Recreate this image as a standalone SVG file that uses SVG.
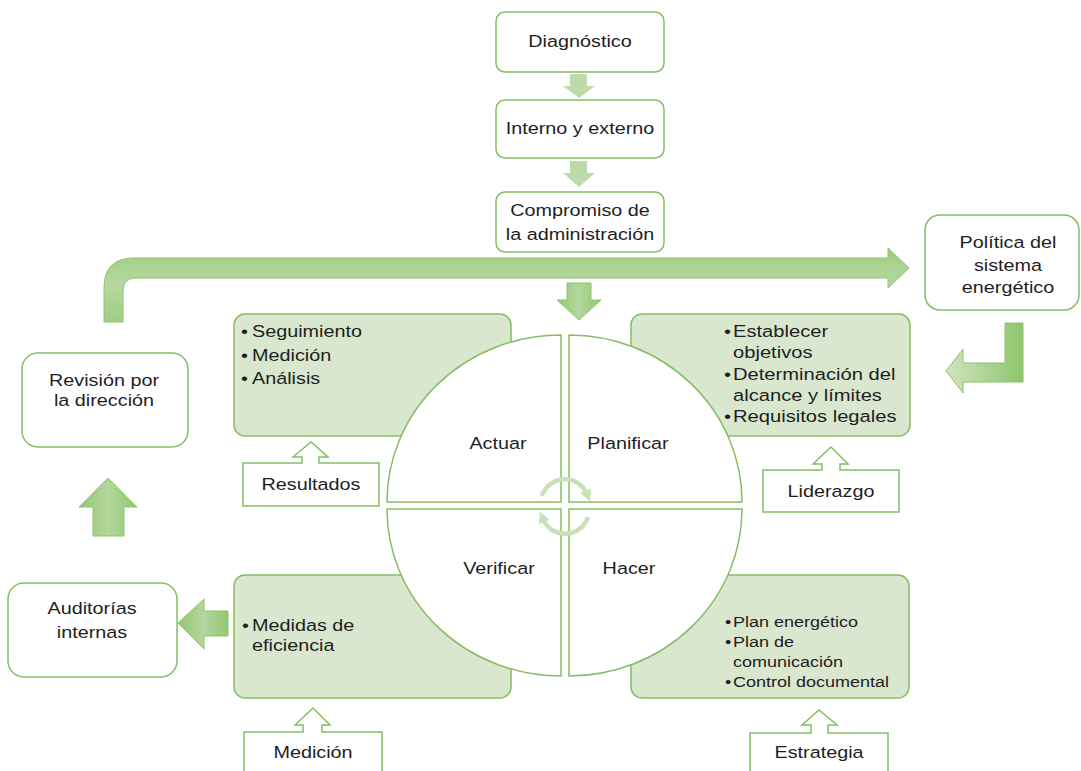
<svg xmlns="http://www.w3.org/2000/svg" width="1081" height="771" viewBox="0 0 1081 771">
<defs>
<style>
.box{fill:#fff;stroke:#86bd64;stroke-width:1.5}
.gbox{fill:#d9e7cf;stroke:#86bd64;stroke-width:1.5}
.quad{fill:#fff;stroke:#86bd64;stroke-width:1.5}
.call{fill:#fff;stroke:#86bd64;stroke-width:1.5}
.t{font-family:"Liberation Sans",Arial,sans-serif;font-size:16.5px;fill:#1e1e1e}
.ts{font-family:"Liberation Sans",Arial,sans-serif;font-size:15px;fill:#1e1e1e}
.tb{font-family:"Liberation Sans",Arial,sans-serif;font-size:16.8px;fill:#1e1e1e}
.m{text-anchor:middle}
.solid{fill:url(#gv);stroke:#8cc46b;stroke-width:1}
.light{fill:#bddaa9}
.cyc{fill:none;stroke:#c8e1b8;stroke-width:4.5}
</style>
<linearGradient id="gv" x1="0" y1="0" x2="1" y2="0">
<stop offset="0" stop-color="#93c873"/>
<stop offset="0.5" stop-color="#b3d69c"/>
<stop offset="1" stop-color="#93c873"/>
</linearGradient>
<linearGradient id="gh" x1="0" y1="0" x2="0" y2="1">
<stop offset="0" stop-color="#9fcd83"/>
<stop offset="0.5" stop-color="#b6d8a0"/>
<stop offset="1" stop-color="#9fcd83"/>
</linearGradient>
<linearGradient id="gp" x1="0" y1="0" x2="1" y2="0">
<stop offset="0" stop-color="#cfe5c0"/>
<stop offset="1" stop-color="#8fc46c"/>
</linearGradient>
<marker id="ah" viewBox="0 0 10 10" refX="3" refY="5" markerWidth="2.6" markerHeight="2.6" orient="auto" markerUnits="strokeWidth">
<path d="M0,0 L10,5 L0,10 Z" fill="#c8e1b8"/>
</marker>
</defs>
<rect width="1081" height="771" fill="#fff"/>

<g id="n-diagnostico">
<rect class="box" x="496" y="12" width="168" height="60" rx="9"/>
<text class="t m" transform="translate(580,47) scale(1.2,1)">Diagnóstico</text>
</g>
<g id="n-interno">
<rect class="box" x="496" y="100" width="168" height="58" rx="9"/>
<text class="t m" transform="translate(580,134) scale(1.2,1)">Interno y externo</text>
</g>
<g id="n-compromiso">
<rect class="box" x="496" y="192" width="168" height="60" rx="9"/>
<text class="t m" transform="translate(580,216) scale(1.2,1)">Compromiso de</text>
<text class="t m" transform="translate(580,240) scale(1.2,1)">la administración</text>
</g>
<g id="n-politica">
<rect class="box" x="925" y="215" width="154" height="95" rx="15"/>
<text class="t m" transform="translate(1008,248) scale(1.2,1)">Política del</text>
<text class="t m" transform="translate(1008,271) scale(1.2,1)">sistema</text>
<text class="t m" transform="translate(1008,293) scale(1.2,1)">energético</text>
</g>
<g id="n-revision">
<rect class="box" x="22" y="353" width="166" height="94" rx="16"/>
<text class="t m" transform="translate(104,386) scale(1.2,1)">Revisión por</text>
<text class="t m" transform="translate(104,406) scale(1.2,1)">la dirección</text>
</g>
<g id="n-auditorias">
<rect class="box" x="8" y="583" width="169" height="94" rx="16"/>
<text class="t m" transform="translate(92,614) scale(1.2,1)">Auditorías</text>
<text class="t m" transform="translate(92,638) scale(1.2,1)">internas</text>
</g>

<g id="n-actuar-detalle">
<rect class="gbox" x="234" y="314" width="277" height="122" rx="11"/>
<text class="t" transform="translate(241,337) scale(1.2,1)">•</text>
<text class="t" transform="translate(252,337) scale(1.2,1)">Seguimiento</text>
<text class="t" transform="translate(241,361) scale(1.2,1)">•</text>
<text class="t" transform="translate(252,361) scale(1.2,1)">Medición</text>
<text class="t" transform="translate(241,384) scale(1.2,1)">•</text>
<text class="t" transform="translate(252,384) scale(1.2,1)">Análisis</text>
</g>
<g id="n-planificar-detalle">
<rect class="gbox" x="631" y="314" width="279" height="122" rx="11"/>
<text class="tb" transform="translate(724,337) scale(1.2,1)">•</text>
<text class="tb" transform="translate(733,337) scale(1.2,1)">Establecer</text>
<text class="tb" transform="translate(733,358) scale(1.2,1)">objetivos</text>
<text class="tb" transform="translate(724,380) scale(1.2,1)">•</text>
<text class="tb" transform="translate(733,380) scale(1.2,1)">Determinación del</text>
<text class="tb" transform="translate(733,401) scale(1.2,1)">alcance y límites</text>
<text class="tb" transform="translate(724,422) scale(1.2,1)">•</text>
<text class="tb" transform="translate(733,422) scale(1.2,1)">Requisitos legales</text>
</g>
<g id="n-verificar-detalle">
<rect class="gbox" x="234" y="575" width="277" height="123" rx="11"/>
<text class="t" transform="translate(242,631) scale(1.2,1)">•</text>
<text class="t" transform="translate(252,631) scale(1.2,1)">Medidas de</text>
<text class="t" transform="translate(252,651) scale(1.2,1)">eficiencia</text>
</g>
<g id="n-hacer-detalle">
<rect class="gbox" x="631" y="575" width="278" height="123" rx="11"/>
<text class="ts" transform="translate(725,627) scale(1.2,1)">•</text>
<text class="ts" transform="translate(733,627) scale(1.2,1)">Plan energético</text>
<text class="ts" transform="translate(725,647) scale(1.2,1)">•</text>
<text class="ts" transform="translate(733,647) scale(1.2,1)">Plan de</text>
<text class="ts" transform="translate(733,667) scale(1.2,1)">comunicación</text>
<text class="ts" transform="translate(725,687) scale(1.2,1)">•</text>
<text class="ts" transform="translate(733,687) scale(1.2,1)">Control documental</text>
</g>

<g id="n-actuar">
<path class="quad" d="M561,502 L387,502 A174,167 0 0 1 561,335 Z"/>
<text class="t m" transform="translate(498,449) scale(1.2,1)">Actuar</text>
</g>
<g id="n-planificar">
<path class="quad" d="M569,502 L569,335 A173,167 0 0 1 742,502 Z"/>
<text class="t m" transform="translate(628,449) scale(1.2,1)">Planificar</text>
</g>
<g id="n-verificar">
<path class="quad" d="M561,509 L561,676 A174,167 0 0 1 387,509 Z"/>
<text class="t m" transform="translate(499,574) scale(1.2,1)">Verificar</text>
</g>
<g id="n-hacer">
<path class="quad" d="M569,509 L742,509 A173,167 0 0 1 569,676 Z"/>
<text class="t m" transform="translate(629,574) scale(1.2,1)">Hacer</text>
</g>

<g id="n-resultados">
<path class="call" d="M243,463 L302,463 L302,457 L293,457 L311,442 L328,457 L319,457 L319,463 L379,463 L379,506 L243,506 Z"/>
<text class="t m" transform="translate(311,490) scale(1.2,1)">Resultados</text>
</g>
<g id="n-liderazgo">
<path class="call" d="M763,470 L822,470 L822,464 L813,464 L831,447 L848,464 L840,464 L840,470 L899,470 L899,512 L763,512 Z"/>
<text class="t m" transform="translate(831,497) scale(1.2,1)">Liderazgo</text>
</g>
<g id="n-medicion">
<path class="call" d="M244,732 L303,732 L303,725 L295,725 L313,708 L330,725 L322,725 L322,732 L382,732 L382,780 L244,780 Z"/>
<text class="t m" transform="translate(313,758) scale(1.2,1)">Medición</text>
</g>
<g id="n-estrategia">
<path class="call" d="M750,733 L811,733 L811,725 L802,725 L819,710 L837,725 L828,725 L828,733 L888,733 L888,780 L750,780 Z"/>
<text class="t m" transform="translate(819,758) scale(1.2,1)">Estrategia</text>
</g>

<g id="connectors">
<path class="light" d="M570,74 L587,74 L587,86 L595,86 L579,98 L563,86 L570,86 Z"/>
<path class="light" d="M570,161 L587,161 L587,173 L595,173 L579,187 L563,173 L570,173 Z"/>
<path fill="url(#gh)" stroke="#8cc46b" stroke-width="1" d="M104,322 L104,288 Q104,258 134,258 L888,258 L888,248 L909,268 L888,288 L888,278 L136,278 Q123,278 123,291 L123,322 Z"/>
<path class="solid" d="M567,283 L591,283 L591,300 L601,300 L579,320 L557,300 L567,300 Z"/>
<path fill="url(#gp)" stroke="#8cc46b" stroke-width="1" d="M1005,323 L1023,323 L1023,382 L963,382 L963,393 L946,371 L963,349 L963,363 L1005,363 Z"/>
<path class="solid" d="M93,536 L93,507 L79,507 L108,478 L137,507 L124,507 L124,536 Z"/>
<path class="solid" d="M228,611 L204,611 L204,599 L178,623 L204,649 L204,636 L228,636 Z"/>
<path class="cyc" marker-end="url(#ah)" d="M542,496 A24,24 0 0 1 587,494"/>
<path class="cyc" marker-end="url(#ah)" d="M588,517 A24,24 0 0 1 543,519"/>
</g>
</svg>
